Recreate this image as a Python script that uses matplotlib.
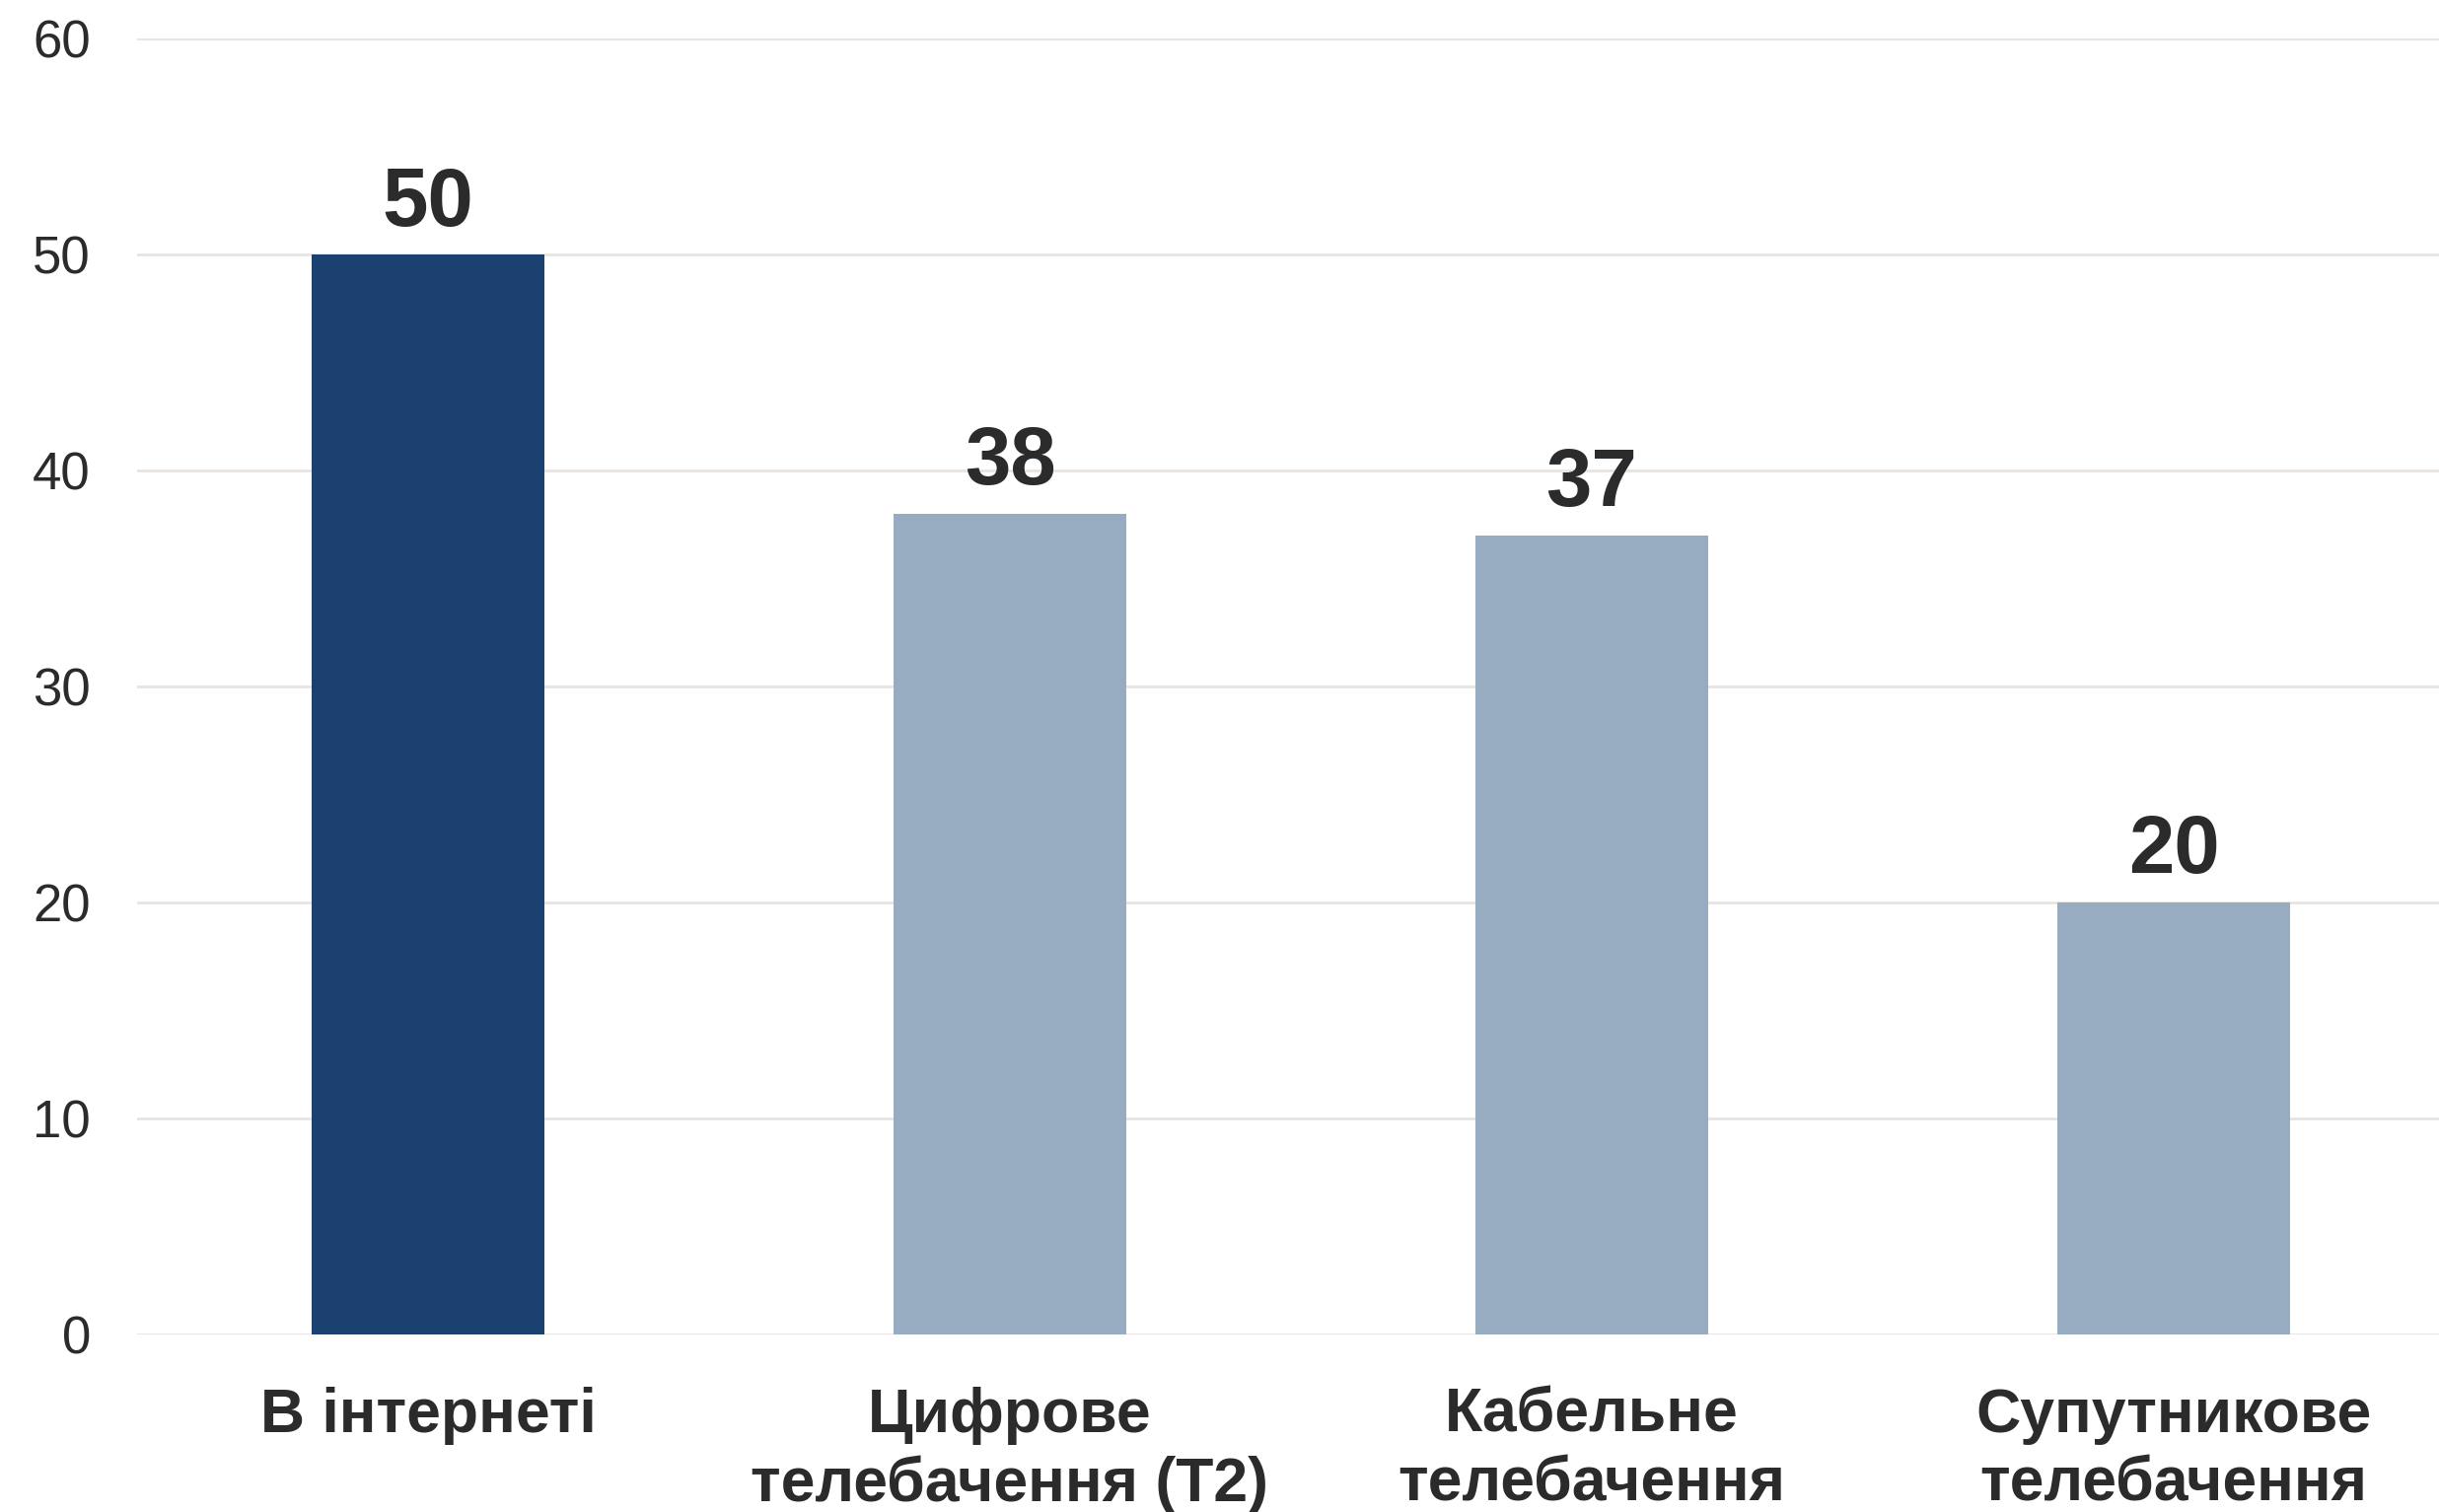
import matplotlib.pyplot as plt

# data
categories = ["В інтернеті", "Цифрове\nтелебачення (Т2)", "Кабельне\nтелебачення", "Супутникове\nтелебачення"]
values = [50, 38, 37, 20]
bar_colors = ["#1b4170", "#97acc0", "#97acc0", "#97acc0"]
y_ticks = [0, 10, 20, 30, 40, 50, 60]

plt.rcParams['font.family'] = ['Liberation Sans', 'DejaVu Sans']
text_color = "#2b2b2b"

fig = plt.figure(figsize=(24.73, 15.33), dpi=100)
ax = fig.add_axes([139 / 2473, 1 - 1353 / 1533, 1 - 139 / 2473, (1353 - 39) / 1533])

x = range(len(categories))
ax.bar(x, values, width=0.4, color=bar_colors, zorder=2)

for i, v in enumerate(values):
    ax.annotate(str(v), (i, v), xytext=(0, 9), textcoords="offset points",
                ha="center", va="bottom", fontsize=60, fontweight="bold", color=text_color)

ax.set_ylim(0, 60)
ax.set_xlim(-0.5, 3.456)
ax.set_yticks(y_ticks)
ax.set_xticks(list(x))
ax.set_xticklabels(categories, fontsize=45, fontweight="bold", color=text_color, linespacing=1.23)
ax.tick_params(axis="y", labelsize=38, labelcolor=text_color, length=0, pad=34)
ax.tick_params(axis="x", length=0, pad=38)
ax.grid(axis="y", color="#e8e4e0", linewidth=2, zorder=0)
for s in ax.spines.values():
    s.set_visible(False)

fig.savefig("out.png", dpi=100)
